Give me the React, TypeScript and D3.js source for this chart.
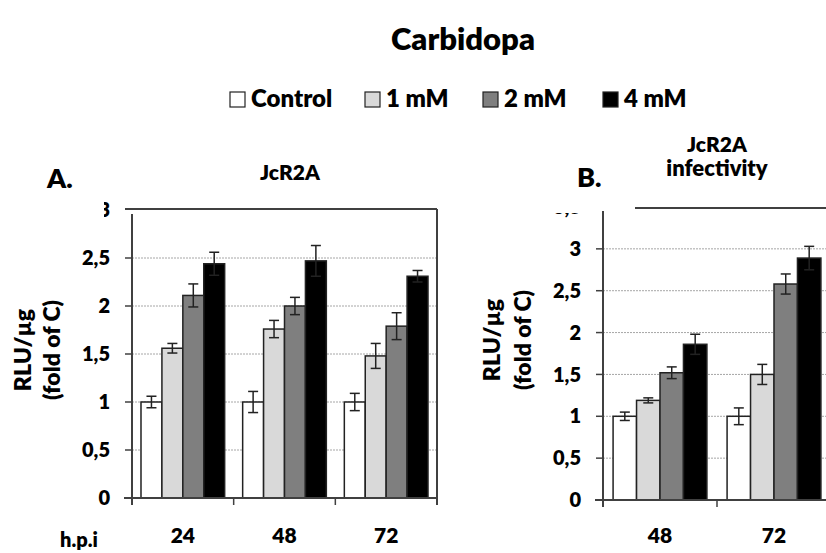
import React from 'react';
import * as d3 from 'd3';

// legend / series
const series = ['Control', '1 mM', '2 mM', '4 mM'];
const seriesFill = ['#ffffff', '#d9d9d9', '#7f7f7f', '#000000'];

// panel A : JcR2A, RLU/µg fold of C
const hpiA = ['24', '48', '72'];
const aControl = [1.0, 1.0, 1.0];
const a1mM = [1.56, 1.76, 1.48];
const a2mM = [2.11, 2.0, 1.79];
const a4mM = [2.44, 2.47, 2.31];
const aControlErr = [0.06, 0.11, 0.09];
const a1mMErr = [0.05, 0.09, 0.13];
const a2mMErr = [0.12, 0.09, 0.14];
const a4mMErr = [0.12, 0.16, 0.06];
const ticksA = [0, 0.5, 1, 1.5, 2, 2.5, 3];

// panel B : JcR2A infectivity
const hpiB = ['48', '72'];
const bControl = [1.0, 1.0];
const b1mM = [1.19, 1.5];
const b2mM = [1.52, 2.58];
const b4mM = [1.86, 2.89];
const bControlErr = [0.05, 0.1];
const b1mMErr = [0.03, 0.12];
const b2mMErr = [0.07, 0.12];
const b4mMErr = [0.12, 0.14];
const ticksB = [0, 0.5, 1, 1.5, 2, 2.5, 3, 3.5];

const FONT = 'Lato, "Open Sans", sans-serif';
const fmt = (v: number) => String(v).replace('.', ',');

type PanelProps = {
  id: string;
  cats: string[];
  values: number[][];
  errors: number[][];
  ticks: number[];
  x0: number;
  x1: number;
  xEnd: number;
  y0: number;
  y1: number;
  yMax: number;
  labelClip: React.ReactNode;
};

function Panel(p: PanelProps) {
  const x = d3.scaleBand().domain(p.cats).range([p.x0, p.x1]).padding(0);
  const xs = d3.scaleBand().domain(series).range([0, x.bandwidth()]).paddingOuter(0.43).paddingInner(0);
  const y = d3.scaleLinear().domain([0, p.yMax]).range([p.y0, p.y1]);
  const clipId = 'clip-' + p.id;

  const bars: React.ReactNode[] = [];
  p.cats.forEach((c, i) => {
    series.forEach((s, j) => {
      const v = p.values[j][i];
      const e = p.errors[j][i];
      const bx = (x(c) as number) + (xs(s) as number);
      const cx = bx + xs.bandwidth() / 2;
      bars.push(
        <g key={c + s}>
          <rect x={bx} y={y(v)} width={xs.bandwidth()} height={p.y0 - y(v)}
                fill={seriesFill[j]} stroke="#222" strokeWidth={1.5} />
          <line x1={cx} x2={cx} y1={y(v + e)} y2={y(v - e)} stroke="#222" strokeWidth={1.5} />
          <line x1={cx - 5} x2={cx + 5} y1={y(v + e)} y2={y(v + e)} stroke="#222" strokeWidth={1.5} />
          <line x1={cx - 5} x2={cx + 5} y1={y(v - e)} y2={y(v - e)} stroke="#222" strokeWidth={1.5} />
        </g>
      );
    });
  });

  return (
    <g>
      <defs>
        <clipPath id={clipId}>{p.labelClip}</clipPath>
      </defs>
      {/* grid */}
      {p.ticks.filter(t => t > 0 && t < p.yMax).map(t => (
        <line key={'g' + t} x1={p.x0} x2={p.xEnd} y1={y(t)} y2={y(t)}
              stroke="#a6a6a6" strokeWidth={1} strokeDasharray="2,1" />
      ))}
      {bars}
      {/* y axis */}
      <line x1={p.x0} x2={p.x0} y1={y(p.yMax) + 4} y2={p.y0 + 7} stroke="#404040" strokeWidth={2} />
      {p.ticks.filter(t => t < p.yMax).map(t => (
        <line key={'t' + t} x1={p.x0 - 7} x2={p.x0} y1={y(t)} y2={y(t)} stroke="#404040" strokeWidth={1.5} />
      ))}
      <g clipPath={`url(#${clipId})`}>
        {p.ticks.map(t => (
          <text key={'l' + t} x={p.x0 - 22} y={y(t)} dy="0.36em" textAnchor="end"
                fontFamily={FONT} fontWeight={800} fontSize={20} fill="#000">{fmt(t)}</text>
        ))}
      </g>
      {/* x axis */}
      <line x1={p.x0 - 8} x2={p.xEnd} y1={p.y0} y2={p.y0} stroke="#404040" strokeWidth={2} />
      {[...p.cats, ''].map((c, i) => {
        const tx = p.x0 + i * x.step();
        return <line key={'x' + i} x1={tx} x2={tx} y1={p.y0} y2={p.y0 + 7} stroke="#404040" strokeWidth={1.5} />;
      })}
      {p.cats.map(c => (
        <text key={'c' + c} x={(x(c) as number) + x.bandwidth() / 2} y={543} textAnchor="middle"
              fontFamily={FONT} fontWeight={800} fontSize={21} fill="#000">{c}</text>
      ))}
    </g>
  );
}

export default function App() {
  const legendX = [230, 365, 483, 603];
  return (
    <svg width={826} height={553} style={{ position: 'absolute', left: 0, top: 0, background: '#fff' }}>
      <text x={463} y={50} textAnchor="middle" fontFamily={FONT} fontWeight={800} fontSize={31}>Carbidopa</text>

      {series.map((s, i) => (
        <g key={s}>
          <rect x={legendX[i]} y={92} width={15} height={15} fill={seriesFill[i]} stroke="#222" strokeWidth={1.2} />
          <text x={legendX[i] + 21} y={107} fontFamily={FONT} fontWeight={800} fontSize={24}>{s}</text>
        </g>
      ))}

      {/* panel A */}
      <text x={47} y={188} fontFamily={FONT} fontWeight={800} fontSize={27}>A.</text>
      <text x={290} y={180} textAnchor="middle" fontFamily={FONT} fontWeight={800} fontSize={21}>JcR2A</text>
      <Panel id="a" cats={hpiA}
             values={[aControl, a1mM, a2mM, a4mM]}
             errors={[aControlErr, a1mMErr, a2mMErr, a4mMErr]}
             ticks={ticksA} x0={132} x1={437} xEnd={437} y0={498} y1={210} yMax={3}
             labelClip={<>
               <rect x={0} y={224} width={130} height={320} />
               <rect x={104} y={195} width={30} height={30} />
             </>} />
      {/* frame of panel A */}
      <line x1={125} x2={437} y1={209} y2={209} stroke="#404040" strokeWidth={2} />
      <line x1={437} x2={437} y1={209} y2={505} stroke="#404040" strokeWidth={2} />
      <g transform="translate(23,350) rotate(-90)">
        <text textAnchor="middle" dy="0.35em" fontFamily={FONT} fontWeight={800} fontSize={23}>RLU/µg</text>
      </g>
      <g transform="translate(52,350) rotate(-90)">
        <text textAnchor="middle" dy="0.35em" fontFamily={FONT} fontWeight={800} fontSize={23}>(fold of C)</text>
      </g>
      <text x={60} y={547} fontFamily={FONT} fontWeight={800} fontSize={20}>h.p.i</text>

      {/* panel B */}
      <text x={577} y={187} fontFamily={FONT} fontWeight={800} fontSize={27}>B.</text>
      <text x={717} y={152} textAnchor="middle" fontFamily={FONT} fontWeight={800} fontSize={21}>JcR2A</text>
      <text x={717} y={176} textAnchor="middle" fontFamily={FONT} fontWeight={800} fontSize={22}>infectivity</text>
      <line x1={635} x2={826} y1={208} y2={208} stroke="#404040" strokeWidth={2} />
      <Panel id="b" cats={hpiB}
             values={[bControl, b1mM, b2mM, b4mM]}
             errors={[bControlErr, b1mMErr, b2mMErr, b4mMErr]}
             ticks={ticksB} x0={603} x1={831} xEnd={826} y0={500} y1={207} yMax={3.5}
             labelClip={<rect x={500} y={213} width={100} height={320} />} />
      <g transform="translate(492,340) rotate(-90)">
        <text textAnchor="middle" dy="0.35em" fontFamily={FONT} fontWeight={800} fontSize={23}>RLU/µg</text>
      </g>
      <g transform="translate(523,340) rotate(-90)">
        <text textAnchor="middle" dy="0.35em" fontFamily={FONT} fontWeight={800} fontSize={23}>(fold of C)</text>
      </g>
    </svg>
  );
}
